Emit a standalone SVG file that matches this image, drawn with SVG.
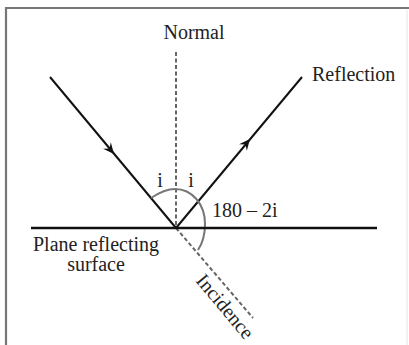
<svg xmlns="http://www.w3.org/2000/svg" width="409" height="345" viewBox="0 0 409 345">
<style>
text{font-family:"Liberation Serif","Times New Roman",serif;font-size:20px;fill:#222}
.ray{stroke:#111;stroke-width:2;fill:none}
.dash{stroke:#666;stroke-width:2;stroke-dasharray:4 2.5;fill:none}
</style>
<defs>
<path id="ah" d="M0,0 L-11,-5 L-7,0 L-11,5 Z" fill="#111"/>
</defs>
<rect width="409" height="345" fill="#fff"/>
<g id="frame">
<path d="M6,345 V8 H409" stroke="#777" stroke-width="2.2" fill="none"/>
<line x1="407" y1="10" x2="407" y2="345" stroke="#e4e4e4" stroke-width="1"/>
</g>
<g id="connectors">
<line class="dash" x1="176" y1="52" x2="176" y2="228"/>
<line class="dash" x1="176" y1="228" x2="253" y2="318"/>
<line class="ray" x1="50" y1="77" x2="176" y2="228"/>
<line class="ray" x1="176" y1="228" x2="302" y2="77"/>
<use href="#ah" transform="translate(114,154) rotate(50.2)"/>
<use href="#ah" transform="translate(250,139) rotate(-50.2)"/>
<path d="M151,198 C160,192 167,189 175,189 C192,189 205,204 205,224 C205,235 202,244 198,250" stroke="#777" stroke-width="2" fill="none"/>
</g>
<g id="surface">
<line x1="31" y1="228" x2="377" y2="228" stroke="#111" stroke-width="2.5"/>
<text x="96" y="251" text-anchor="middle">Plane reflecting</text>
<text x="96" y="271" text-anchor="middle">surface</text>
</g>
<g id="normal"><text x="194" y="39" text-anchor="middle">Normal</text></g>
<g id="reflection"><text x="312" y="81">Reflection</text></g>
<g id="angles">
<text x="160" y="187" text-anchor="middle">i</text>
<text x="191" y="187" text-anchor="middle">i</text>
<text x="212" y="217">180 – 2i</text>
</g>
<g id="incidence"><text transform="translate(195,281) rotate(50)" font-size="19">Incidence</text></g>
</svg>
